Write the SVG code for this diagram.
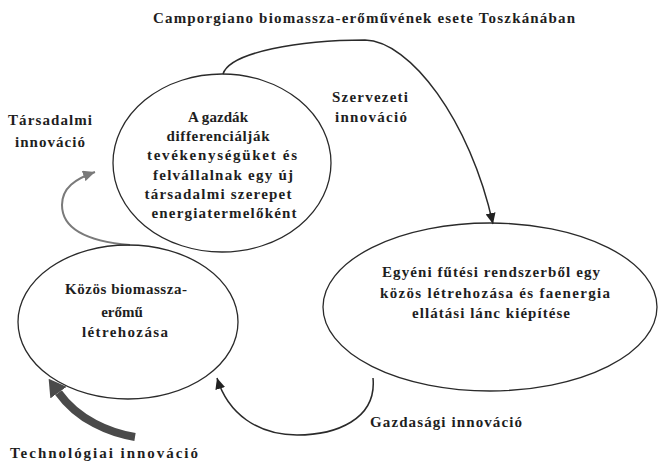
<svg xmlns="http://www.w3.org/2000/svg" width="659" height="465" viewBox="0 0 659 465">
<style>
  .t { font-family: "Liberation Serif", "Times New Roman", serif; font-weight: bold; font-size: 15px; fill: #1e1e1e; text-anchor: middle; }
  .node { fill: none; stroke: #2a2a2a; stroke-width: 1.3; }
  .conn { fill: none; stroke: #2a2a2a; stroke-width: 1.5; }
  .gray { fill: none; stroke: #7a7a7a; stroke-width: 2; }
  .thick { fill: none; stroke: #4a4a4a; stroke-width: 8; }
</style>
<defs>
  <marker id="arrBlack" viewBox="0 0 11 10" refX="11" refY="5" markerWidth="11" markerHeight="10" markerUnits="userSpaceOnUse" orient="auto">
    <path d="M0,0 L11,5 L0,10 z" fill="#222"/>
  </marker>
  <marker id="arrGray" viewBox="0 0 12 11" refX="12" refY="5.5" markerWidth="12" markerHeight="11" markerUnits="userSpaceOnUse" orient="auto">
    <path d="M0,0 L12,5.5 L0,11 z" fill="#7a7a7a"/>
  </marker>
  <marker id="arrThick" viewBox="0 0 17 20" refX="0" refY="10" markerWidth="17" markerHeight="20" markerUnits="userSpaceOnUse" orient="auto">
    <path d="M0,0 L17,10 L0,20 z" fill="#4a4a4a"/>
  </marker>
</defs>
<rect width="659" height="465" fill="#ffffff"/>
<text class="t" x="364" y="23" textLength="422" lengthAdjust="spacing">Camporgiano biomassza-erőművének esete Toszkánában</text>

<g id="connectors">
  <path id="c-szervezeti" class="conn" d="M223,74 C230,52 300,40 365,40 C410,41 470,120 493,224" marker-end="url(#arrBlack)"/>
  <path id="c-gazdasagi" class="conn" d="M373,378 C377,420 335,435 297,435 C258,435 228,414 217,378" marker-end="url(#arrBlack)"/>
  <path id="c-tarsadalmi" class="gray" d="M130,245 C95,242 62,232 62,205 C62,188 75,179 95,172" marker-end="url(#arrGray)"/>
  <path id="c-technologiai" class="thick" d="M135,437 C110,433 78,420 58.5,392.6" marker-end="url(#arrThick)"/>
  <text class="t" x="370" y="102" textLength="76" lengthAdjust="spacing">Szervezeti</text>
  <text class="t" x="371" y="122" textLength="72" lengthAdjust="spacing">innováció</text>
  <text class="t" x="50" y="125" textLength="84" lengthAdjust="spacing">Társadalmi</text>
  <text class="t" x="50" y="147" textLength="70" lengthAdjust="spacing">innováció</text>
  <text class="t" x="446" y="427" textLength="152" lengthAdjust="spacing">Gazdasági innováció</text>
  <text class="t" x="104" y="458" textLength="188" lengthAdjust="spacing">Technológiai innováció</text>
</g>

<g id="node-gazdak">
  <ellipse class="node" cx="222" cy="163" rx="109" ry="89"/>
  <text class="t" x="218" y="122" textLength="60" lengthAdjust="spacing">A gazdák</text>
  <text class="t" x="218" y="141" textLength="103" lengthAdjust="spacing">differenciálják</text>
  <text class="t" x="222" y="160" textLength="150" lengthAdjust="spacing">tevékenységüket és</text>
  <text class="t" x="223" y="180" textLength="140" lengthAdjust="spacing">felvállalnak egy új</text>
  <text class="t" x="218" y="199" textLength="147" lengthAdjust="spacing">társadalmi szerepet</text>
  <text class="t" x="224" y="218" textLength="145" lengthAdjust="spacing">energiatermelőként</text>
</g>

<g id="node-egyeni">
  <ellipse class="node" cx="490" cy="307" rx="167" ry="84"/>
  <text class="t" x="491" y="277" textLength="218" lengthAdjust="spacing">Egyéni fűtési rendszerből egy</text>
  <text class="t" x="495" y="298" textLength="230" lengthAdjust="spacing">közös létrehozása és faenergia</text>
  <text class="t" x="491" y="318" textLength="158" lengthAdjust="spacing">ellátási lánc kiépítése</text>
</g>

<g id="node-kozos">
  <ellipse class="node" cx="128" cy="322" rx="110" ry="77"/>
  <text class="t" x="126" y="294" textLength="122" lengthAdjust="spacing">Közös biomassza-</text>
  <text class="t" x="122" y="317">erőmű</text>
  <text class="t" x="125" y="337" textLength="86" lengthAdjust="spacing">létrehozása</text>
</g>
</svg>
